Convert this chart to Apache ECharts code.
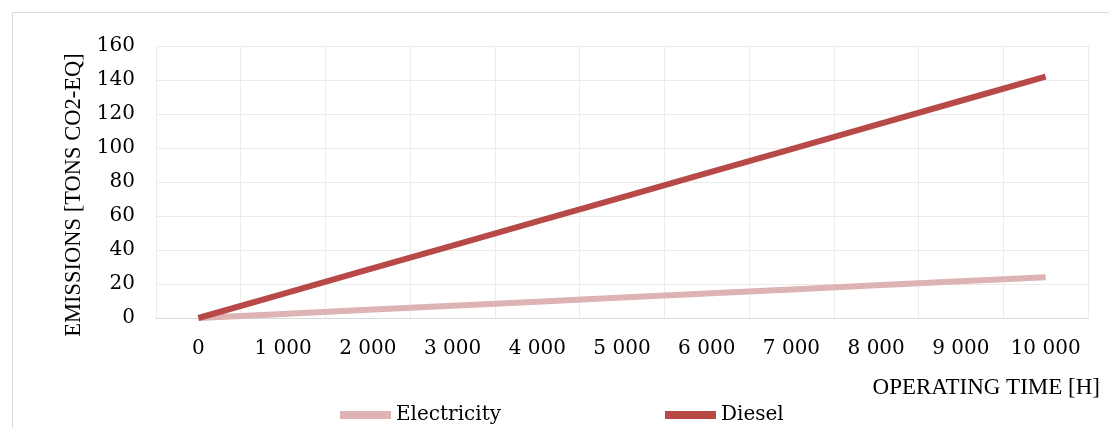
<!DOCTYPE html>
<html><head><meta charset="utf-8">
<script src="https://cdn.jsdelivr.net/npm/echarts@6/dist/echarts.min.js"></script>
<style>html,body{margin:0;padding:0;background:#fff}#c{width:1109px;height:428px}</style>
</head><body><div id="c"></div>
<script>
const categories = ['0','1 000','2 000','3 000','4 000','5 000','6 000','7 000','8 000','9 000','10 000'];
const electricity = [0, 2.4, 4.8, 7.2, 9.6, 12.0, 14.4, 16.8, 19.2, 21.6, 24.0];
const diesel = [0, 14.2, 28.4, 42.6, 56.8, 71.0, 85.2, 99.4, 113.6, 127.8, 142.0];
const yTicks = {min: 0, max: 160, interval: 20};

const FONT = '"DejaVu Serif", serif';
const FONT2 = '"Liberation Serif", serif';
const chart = echarts.init(document.getElementById('c'), null, {renderer: 'canvas'});
chart.setOption({
  animation: false,
  textStyle: {fontFamily: FONT},
  grid: {left: 156, right: 21, top: 46, bottom: 110, containLabel: false},
  graphic: [
    {type: 'rect', shape: {x: 12.5, y: 12.5, width: 1110, height: 430}, style: {fill: 'none', stroke: '#D9D9D9', lineWidth: 1}, silent: true},
    {type: 'text', right: 9, top: 376, style: {text: 'OPERATING TIME [H]', font: '23px ' + FONT2, fill: '#000'}}
  ],
  legend: [
    {data: ['Electricity'], left: 335, top: 400, itemWidth: 51, itemHeight: 8, itemGap: 5,
     textStyle: {fontSize: 20, color: '#000', fontFamily: FONT}, icon: 'rect'},
    {data: ['Diesel'], left: 660, top: 400, itemWidth: 51, itemHeight: 8, itemGap: 5,
     textStyle: {fontSize: 20, color: '#000', fontFamily: FONT}, icon: 'rect'}
  ],
  xAxis: {
    type: 'category', data: categories, boundaryGap: true,
    axisLine: {show: true, lineStyle: {color: '#D9D9D9', width: 1}},
    axisTick: {show: false},
    axisLabel: {color: '#000', fontSize: 20, margin: 21, fontFamily: FONT, interval: 0},
    splitLine: {show: true, lineStyle: {color: '#EBEBEB', width: 1}}
  },
  yAxis: {
    type: 'value', min: yTicks.min, max: yTicks.max, interval: yTicks.interval,
    name: 'EMISSIONS [TONS CO2-EQ]', nameLocation: 'middle', nameGap: 70, nameRotate: 90,
    nameTextStyle: {fontSize: 22.5, color: '#000', fontFamily: FONT2, padding: [0, 26, 0, 0]},
    axisLine: {show: false}, axisTick: {show: false},
    axisLabel: {color: '#000', fontSize: 20, margin: 21, fontFamily: FONT},
    splitLine: {show: true, lineStyle: {color: '#EBEBEB', width: 1}}
  },
  series: [
    {name: 'Electricity', type: 'line', data: electricity, showSymbol: false, symbol: 'none',
     lineStyle: {color: '#DDB3B3', width: 6, cap: 'butt'}, itemStyle: {color: '#DDB3B3'}, z: 2},
    {name: 'Diesel', type: 'line', data: diesel, showSymbol: false, symbol: 'none',
     lineStyle: {color: '#B74A47', width: 6, cap: 'butt'}, itemStyle: {color: '#B74A47'}, z: 3}
  ]
});
</script></body></html>
